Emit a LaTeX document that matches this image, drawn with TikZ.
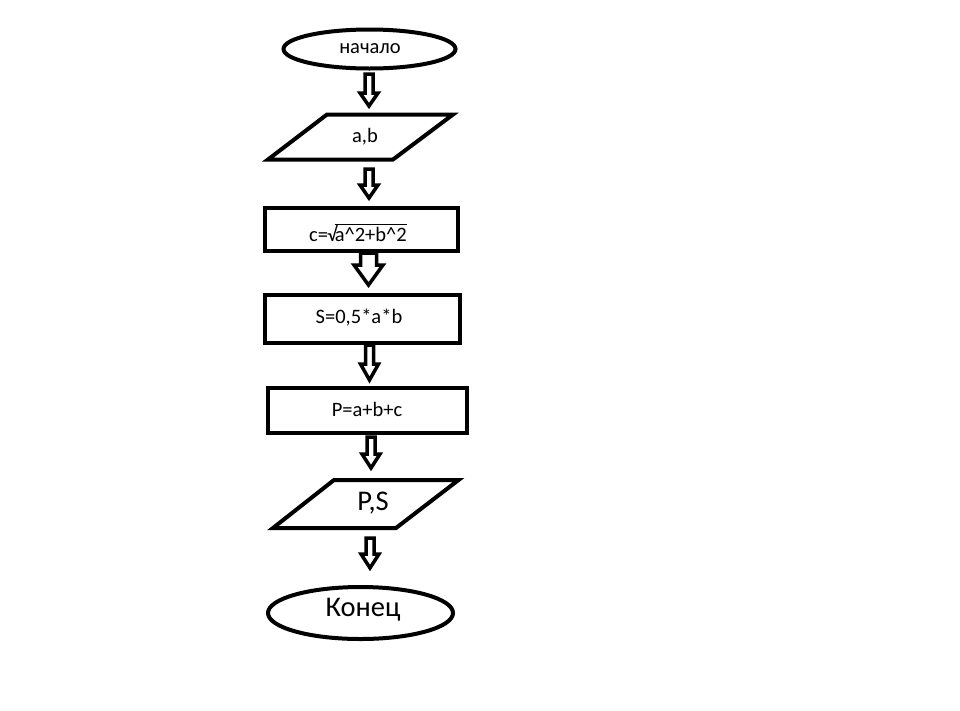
\documentclass[tikz,border=0pt]{standalone}
\usepackage{fontspec}
\setmainfont{Carlito}
\usetikzlibrary{calc,shapes.geometric}
\tikzset{
  shp/.style={draw=black,line width=4pt,fill=white},
  lbl/.style={font=\fontsize{20.5}{23}\selectfont,inner sep=0pt},
  big/.style={font=\fontsize{28.5}{32}\selectfont,inner sep=0pt},
  arr/.style={draw=black,line width=3.5pt,fill=white,line join=miter},
}
% block arrow: x centre, y start, y tip, shaft half, head half, head length
\newcommand{\barrow}[6]{%
  \draw[arr] (#1-#4,#2) -- (#1-#4,#3-#6) -- (#1-#5,#3-#6) -- (#1,#3)
    -- (#1+#5,#3-#6) -- (#1+#4,#3-#6) -- (#1+#4,#2) -- cycle;}
\begin{document}
\begin{tikzpicture}[x=1pt,y=-1pt]
\useasboundingbox[fill=white] (0,0) rectangle (960,710);
% start ellipse
\draw[shp] (369.5,49) ellipse [x radius=86, y radius=19.5];
\node[lbl] (start) at (370,49) {начало};
% parallelogram a,b
\draw[shp] (327,114.5) -- (453,114.5) -- (393,159.5) -- (268,159.5) -- cycle;
\node[lbl] (ab) at (365,137) {a,b};
% rect c
\draw[shp] (265,207.5) rectangle (457.5,251);
\node[lbl] (c) at (358,234) {c=\kern-1pt\char"221A\kern-2.5pt$\overline{\hbox{\vphantom{(}a\^{}2+b\^{}2}}$};
% rect S
\draw[shp] (265,294.5) rectangle (459.5,342.5);
\node[lbl] (s) at (359,318) {S=0,5*a*b};
% rect P
\draw[shp] (268,387.5) rectangle (467,433);
\node[lbl] (p) at (367,409) {P=a+b+c};
% parallelogram P,S
\draw[shp] (334,480) -- (458.5,480) -- (396,528) -- (273,528) -- cycle;
\node[big] (ps) at (373,503) {P,S};
% end ellipse
\draw[shp] (360.5,613) ellipse [x radius=92.5, y radius=26];
\node[big] (end) at (363,610) {Конец};
% block arrows
\barrow{369}{74}{106}{4}{9}{13}
\barrow{369}{169}{198}{4}{9}{13}
\barrow{368.5}{253}{285}{8}{14.5}{20}
\barrow{369.5}{345}{380}{4}{9}{16}
\barrow{371}{437}{468}{4}{9}{14}
\barrow{370}{538}{568}{4}{9}{14}
\end{tikzpicture}
\end{document}
